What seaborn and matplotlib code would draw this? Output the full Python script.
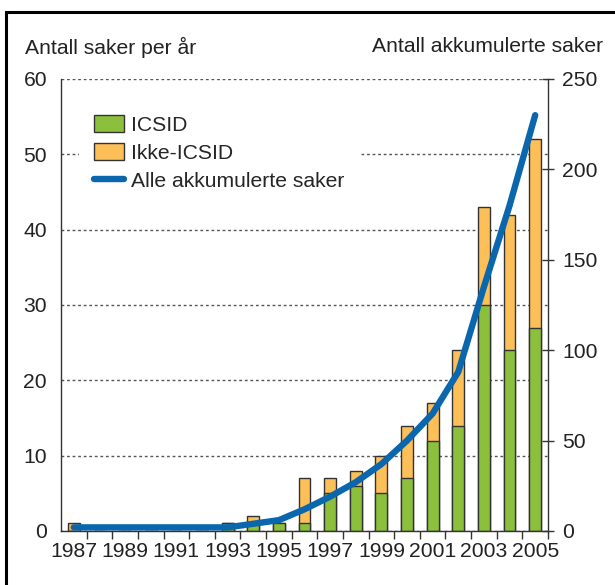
# -*- coding: utf-8 -*-
"""
Antall investeringstvister per år, ICSID / ikke-ICSID, med akkumulert linje
"""
import matplotlib
matplotlib.use("Agg")
import matplotlib.pyplot as plt
from matplotlib.patches import Patch, Rectangle
from matplotlib.lines import Line2D
from matplotlib.ticker import MultipleLocator, FixedLocator
import seaborn as sns
import pandas as pd
import numpy as np

# %% data
years = [1987, 1988, 1989, 1990, 1991, 1992, 1993, 1994, 1995, 1996,
         1997, 1998, 1999, 2000, 2001, 2002, 2003, 2004, 2005]
icsid = [0, 0, 0, 0, 0, 0, 1, 1, 1, 1, 5, 6, 5, 7, 12, 14, 30, 24, 27]
ikke_icsid = [1, 0, 0, 0, 0, 0, 0, 1, 0, 6, 2, 2, 5, 7, 5, 10, 13, 18, 25]
akkumulert = [2, 2, 2, 2, 2, 2, 2, 4, 6, 12, 19, 27, 37, 50, 65, 88, 135, 180, 230]
tick_years = [1987, 1989, 1991, 1993, 1995, 1997, 1999, 2001, 2003, 2005]

green = '#8cbf3c'
orange = '#fdbf57'
blue = '#0a67ae'
edge = '#333333'
fs = 15.2

df = pd.DataFrame({'year': [str(y) for y in years],
                   'icsid': icsid,
                   'total': np.array(icsid) + np.array(ikke_icsid),
                   'akk': akkumulert})
order = df['year'].tolist()

# %% figure
sns.set_style('white')
plt.rcParams['font.family'] = ['Liberation Sans', 'DejaVu Sans']

fig = plt.figure(figsize=(6.15, 5.85), dpi=100)
ax = fig.add_axes([61/615, 1-531/585, 487/615, 452/585])

# stacked bars: total (orange) first, then ICSID (green) on top of it
sns.barplot(data=df, x='year', y='total', order=order, color=orange, ax=ax,
            width=0.46, edgecolor=edge, linewidth=1, saturation=1, errorbar=None)
sns.barplot(data=df, x='year', y='icsid', order=order, color=green, ax=ax,
            width=0.46, edgecolor=edge, linewidth=1, saturation=1, errorbar=None)

ax.set_xlim(-0.5, len(years) - 0.5)
ax.set_ylim(0, 60)
ax.yaxis.set_major_locator(MultipleLocator(10))
ax.set_xlabel('')
ax.set_ylabel('')
ax.grid(axis='y', color='#555555', linestyle=(0, (2, 2)), linewidth=1)
ax.grid(axis='x', visible=False)
ax.set_axisbelow(True)

# x labels on odd years, tick marks between the bars
ax.xaxis.set_major_locator(FixedLocator([years.index(y) for y in tick_years]))
ax.set_xticklabels([str(y) for y in tick_years])
ax.xaxis.set_minor_locator(FixedLocator(np.arange(len(years)) + 0.5))
ax.tick_params(axis='x', which='major', length=0, pad=8, labelsize=fs, colors='#222222')
ax.tick_params(axis='x', which='minor', length=6, width=1, color=edge, direction='out', bottom=True)
ax.tick_params(axis='y', length=0, pad=10, labelsize=fs, colors='#222222')

for s in ['top', 'right']:
    ax.spines[s].set_visible(False)
for s in ['left', 'bottom']:
    ax.spines[s].set_color(edge)
    ax.spines[s].set_linewidth(1)

# cumulative line on the right axis
ax2 = ax.twinx()
sns.lineplot(data=df, x='year', y='akk', sort=False, color=blue, linewidth=4.6,
             ax=ax2, solid_capstyle='round', solid_joinstyle='round')
ax2.set_ylim(0, 250)
ax2.yaxis.set_major_locator(MultipleLocator(50))
ax2.set_xlim(-0.5, len(years) - 0.5)
ax2.set_ylabel('')
ax2.set_xlabel('')
ax2.tick_params(axis='y', direction='inout', length=8, width=1, color=edge,
                pad=6, labelsize=fs, labelcolor='#222222')
for s in ['top', 'left', 'bottom']:
    ax2.spines[s].set_visible(False)
ax2.spines['right'].set_color(edge)
ax2.spines['right'].set_linewidth(1)
ax2.grid(False)

# axis titles
fig.text(25/615, 1-47/585, 'Antall saker per år', fontsize=fs, ha='left', va='center', color='#222222')
fig.text(603/615, 1-47/585, 'Antall akkumulerte saker', fontsize=fs, ha='right', va='center', color='#222222')

# legend (white box hides the gridline behind it)
handles = [Patch(facecolor=green, edgecolor=edge, linewidth=1),
           Patch(facecolor=orange, edgecolor=edge, linewidth=1),
           Line2D([], [], color=blue, linewidth=4.6, solid_capstyle='round')]
labels = ['ICSID', 'Ikke-ICSID', 'Alle akkumulerte saker']
leg = ax2.legend(handles, labels, loc='upper left', bbox_to_anchor=(79/615, 1-100/585),
                 bbox_transform=fig.transFigure, frameon=True, fancybox=False,
                 facecolor='white', edgecolor='none', framealpha=1, fontsize=fs,
                 borderpad=0.7, borderaxespad=0, handlelength=1.45, handleheight=0.85,
                 handletextpad=0.3, labelspacing=0.4)

# black frame around the chart (cut at right and bottom like the source)
fig.add_artist(Rectangle((6/615, -0.2), 1.2, 1.2 - 12/585, transform=fig.transFigure,
                         fill=False, edgecolor='black', linewidth=2.2))

plt.savefig('out.png', dpi=100)
